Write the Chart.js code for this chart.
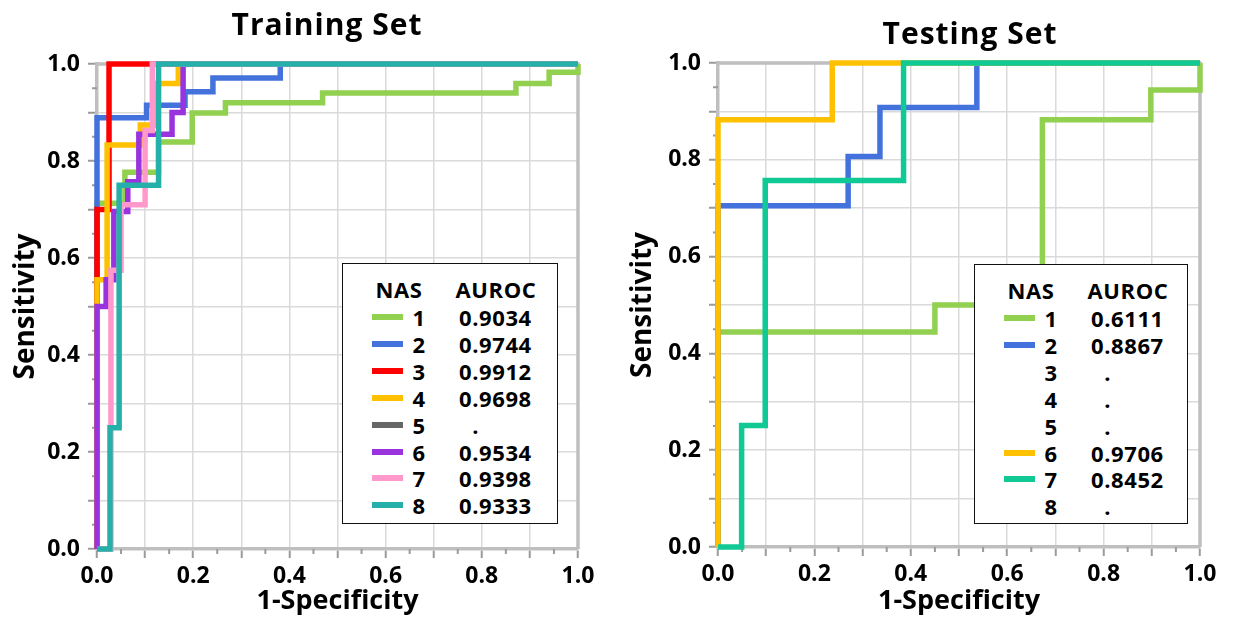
<!DOCTYPE html>
<html>
<head>
<meta charset="utf-8">
<script src="https://cdn.jsdelivr.net/npm/chart.js@4.4.1/dist/chart.umd.min.js"></script>
<style>
html,body{margin:0;padding:0;background:#fff;}
#wrap{position:relative;width:1234px;height:628px;overflow:hidden;font-family:"Open Sans",sans-serif;color:#000;}
canvas{position:absolute;top:0;}
.ttl{position:absolute;font-weight:700;font-size:30px;letter-spacing:1px;line-height:30px;white-space:nowrap;transform:translateX(-50%);}
.lg{position:absolute;border:1.5px solid #111;background:#fff;box-sizing:border-box;}
.lt{position:absolute;font-weight:700;font-size:22px;letter-spacing:0.6px;line-height:22px;white-space:nowrap;}
.sw{position:absolute;height:6px;width:31px;}
</style>
</head>
<body>
<div id="wrap">
  <canvas id="cTrain" width="617" height="628" style="left:0px;width:617px;height:628px"></canvas>
  <canvas id="cTest" width="617" height="628" style="left:617px;width:617px;height:628px"></canvas>
  <div class="ttl" style="left:327px;top:9px">Training Set</div>
  <div class="ttl" style="left:970px;top:18px">Testing Set</div>
  <div class="lg" id="lgTrain" style="left:342px;top:263px;width:216px;height:261px"></div>
  <div class="lg" id="lgTest" style="left:974px;top:264px;width:214px;height:260px"></div>
</div>
<script>
// ---------- DATA ----------
const nasLabels  = ['1','2','3','4','5','6','7','8'];
const trainAuroc = ['0.9034','0.9744','0.9912','0.9698','.','0.9534','0.9398','0.9333'];
const testAuroc  = ['0.6111','0.8867','.','.','.','0.9706','0.8452','.'];
const tickLabels = ['0.0','0.2','0.4','0.6','0.8','1.0'];

// ROC step curves: X = 1-specificity where each horizontal run ends, Y = sensitivity of that run
// Training set
const trX1 = [0.058,0.128,0.198,0.267,0.469,0.871,0.94,1.0,1.0];
const trY1 = [0.713,0.777,0.839,0.899,0.92,0.94,0.96,0.983,1.0];
const trX2 = [0.103,0.183,0.241,0.381,1.0];
const trY2 = [0.889,0.915,0.943,0.971,1.0];
const trX3 = [0.025,1.0];
const trY3 = [0.70,1.0];
const trX4 = [0.021,0.09,0.12,0.169,1.0];
const trY4 = [0.555,0.833,0.874,0.96,1.0];
const trX6 = [0.019,0.035,0.064,0.087,0.156,0.179,1.0];
const trY6 = [0.50,0.555,0.696,0.757,0.855,0.90,1.0];
const trX7 = [0.029,0.05,0.10,0.115,1.0];
const trY7 = [0.0,0.575,0.71,0.863,1.0];
const trX8 = [0.027,0.046,0.128,1.0];
const trY8 = [0.0,0.25,0.75,1.0];
// Testing set
const teX1 = [0.45,0.673,0.898,1.0,1.0];
const teY1 = [0.444,0.50,0.883,0.944,1.0];
const teX2 = [0.27,0.336,0.537,1.0];
const teY2 = [0.705,0.807,0.908,1.0];
const teX6 = [0.237,1.0];
const teY6 = [0.883,1.0];
const teX7 = [0.049,0.098,0.385,1.0];
const teY7 = [0.0,0.251,0.757,1.0];

// ---------- STYLE ----------
const colors = {
  '1':'#92d050','2':'#4472dd','3':'#ff0000','4':'#ffc000','5':'#666666',
  '6':'#9933dd','7':'#ff99cc','8':'#26b0aa'
};
const testColors = {'1':'#92d050','2':'#4472dd','6':'#ffc000','7':'#10c995'};

const trainCurves = [
  {nas:'1',X:trX1,Y:trY1},{nas:'2',X:trX2,Y:trY2},{nas:'3',X:trX3,Y:trY3},
  {nas:'4',X:trX4,Y:trY4},{nas:'6',X:trX6,Y:trY6},{nas:'7',X:trX7,Y:trY7},{nas:'8',X:trX8,Y:trY8}
];
const testCurves = [
  {nas:'1',X:teX1,Y:teY1},{nas:'2',X:teX2,Y:teY2},{nas:'6',X:teX6,Y:teY6},{nas:'7',X:teX7,Y:teY7}
];

function stepPoints(X, Y){
  const pts = [{x:0,y:0}];
  let px = 0;
  for (let i = 0; i < X.length; i++){
    pts.push({x:px, y:Y[i]});
    pts.push({x:X[i], y:Y[i]});
    px = X[i];
  }
  return pts;
}

const framePlugin = {
  id:'frame',
  beforeDatasetsDraw(chart){
    const {ctx, chartArea:a, scales} = chart;
    ctx.save();
    ctx.strokeStyle = '#bfbfbf'; ctx.lineWidth = 3.5;
    ctx.beginPath();
    ctx.moveTo(a.left, a.top); ctx.lineTo(a.right, a.top); ctx.lineTo(a.right, a.bottom);
    ctx.stroke();
    ctx.strokeStyle = '#9a9a9a'; ctx.lineWidth = 2;
    ctx.beginPath();
    for (let k = 0; k < 10; k++){
      const v = 0.05 + k*0.1;
      const px = scales.x.getPixelForValue(v);
      ctx.moveTo(px, a.bottom); ctx.lineTo(px, a.bottom + 5);
      const py = scales.y.getPixelForValue(v);
      ctx.moveTo(a.left, py); ctx.lineTo(a.left - 5, py);
    }
    ctx.stroke();
    ctx.restore();
  }
};

function makeChart(id, curves, cmap, geo){
  const datasets = curves.map(c => ({
    label: 'NAS ' + c.nas,
    data: stepPoints(c.X, c.Y),
    borderColor: cmap[c.nas],
    backgroundColor: cmap[c.nas],
    borderWidth: 5.5,
    pointRadius: 0,
    fill: false,
    tension: 0,
    clip: false,
    borderJoinStyle: 'miter',
    borderCapStyle: 'butt',
    order: 10 - Number(c.nas)
  }));
  const tickCb = v => {
    const r = Math.round(v*10);
    return r % 2 === 0 ? tickLabels[r/2] : '';
  };
  const common = (isX) => ({
    type:'linear', min:0, max:1,
    ticks:{stepSize:0.1, autoSkip:false, maxRotation:0, callback:tickCb,
      color:'#000', font:{family:'"Open Sans"', size:23, weight:'bold'}, padding: isX ? 5 : 8},
    grid:{color:'#dadada', lineWidth:1.5, tickColor:'#9a9a9a', tickLength:9, tickWidth:2},
    border:{color:'#bfbfbf', width:3.5},
  });
  const xs = common(true);
  xs.title = {display:true, text:'1-Specificity', color:'#000',
    font:{family:'"Open Sans"', size:27, weight:'bold'}, padding:{top:0,bottom:10}};
  xs.afterFit = s => { s.height = geo.bottomH; };
  const ys = common(false);
  ys.title = {display:true, text:'Sensitivity', color:'#000',
    font:{family:'"Open Sans"', size:28, weight:'bold'}, padding:{top:9,bottom:0}};
  ys.afterFit = s => { s.width = geo.leftW; };
  return new Chart(document.getElementById(id), {
    type:'line',
    data:{datasets},
    options:{
      responsive:false, animation:false, devicePixelRatio:1,
      layout:{padding:{top:geo.top, right:geo.right, left:0, bottom:0}},
      plugins:{legend:{display:false}, tooltip:{enabled:false}, title:{display:false}},
      scales:{x:xs, y:ys}
    },
    plugins:[framePlugin]
  });
}

makeChart('cTrain', trainCurves, colors, {top:64, right:39, leftW:97, bottomH:79});
makeChart('cTest', testCurves, testColors, {top:63, right:34, leftW:101, bottomH:81});

function buildLegend(id, values, cmap){
  const box = document.getElementById(id);
  const add = (txt, cls, css) => {
    const d = document.createElement('div');
    d.className = cls; d.textContent = txt; Object.assign(d.style, css); box.appendChild(d); return d;
  };
  const h1 = add('NAS','lt',{top:(25-11)+'px'});
  const h2 = add('AUROC','lt',{top:(25-11)+'px'});
  const rows = [];
  nasLabels.forEach((n,i) => {
    const cy = 53 + i*26.9;
    if (cmap[n]) {
      const s = document.createElement('div');
      s.className = 'sw'; s.style.left = '29px'; s.style.top = (cy-3)+'px'; s.style.background = cmap[n];
      box.appendChild(s);
    }
    const a = add(n,'lt',{top:(cy-11)+'px'});
    const b = add(values[i],'lt',{top:(cy-11)+'px'});
    if (values[i] === '.') b.style.paddingLeft = '0.6em';
    rows.push([a,b]);
  });
  h1.style.left = (56 - h1.offsetWidth/2)+'px';
  h2.style.left = (153 - h2.offsetWidth/2)+'px';
  rows.forEach(([a,b]) => {
    a.style.left = (76 - a.offsetWidth/2)+'px';
    b.style.left = '116px';
  });
}
buildLegend('lgTrain', trainAuroc, colors);
buildLegend('lgTest', testAuroc, testColors);
</script>
</body>
</html>
